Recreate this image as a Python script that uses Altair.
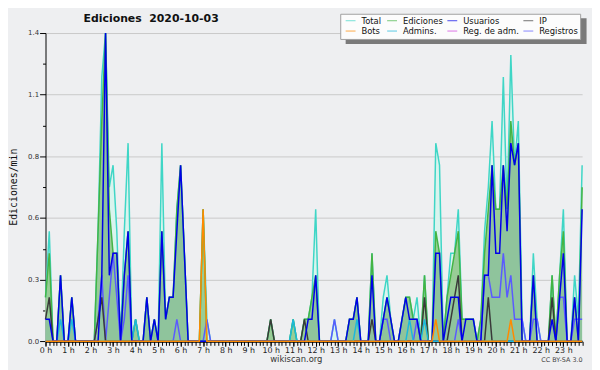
import altair as alt
import pandas as pd

# ---- labels / text ----
series_names = ["Total", "Ediciones", "Usuarios", "IP", "Bots", "Admins.", "Reg. de adm.", "Registros"]
series_colors = ["#3fd6c6", "#44b444", "#0000e8", "#3a3a3a", "#ff8a00", "#1cb8dc", "#d040e0", "#5a5aff"]
hour_labels = [f"{h} h" for h in range(24)]
y_ticks = [0, 0.28, 0.56, 0.84, 1.12, 1.4]
y_minor = [0.14, 0.42, 0.70, 0.98, 1.26]
title_text = ["Ediciones\u00a0\u00a02020-10-03"]
y_title = ["Ediciones/min"]
footer_site = ["wikiscan.org"]
footer_license = ["CC BY-SA 3.0"]

# ---- values: edits per minute, one value per 10-minute bin (6 per hour) ----
total = [
    0.2, 0.5, 0, 0, 0.3, 0,        # 0 h
    0, 0.2, 0, 0, 0, 0,            # 1 h
    0, 0, 0.5, 1.2, 1.4, 0.7,      # 2 h
    0.8, 0.5, 0, 0.5, 0.9, 0,      # 3 h
    0.1, 0, 0, 0.2, 0, 0.1,        # 4 h
    0, 0.9, 0.1, 0.2, 0.2, 0.6,    # 5 h
    0.8, 0.4, 0, 0, 0, 0,          # 6 h
    0.6, 0.1, 0, 0, 0, 0,          # 7 h
    0, 0, 0, 0, 0, 0,              # 8 h
    0, 0, 0, 0, 0, 0,              # 9 h
    0.1, 0, 0, 0, 0, 0,            # 10 h
    0.1, 0, 0, 0.1, 0.1, 0.2,      # 11 h
    0.6, 0, 0, 0, 0, 0.1,          # 12 h
    0, 0, 0, 0.1, 0.1, 0.2,        # 13 h
    0, 0, 0, 0.4, 0, 0,            # 14 h
    0.2, 0.3, 0.1, 0, 0, 0.1,      # 15 h
    0.2, 0.2, 0.1, 0.2, 0, 0.3,    # 16 h
    0, 0, 0.9, 0.8, 0, 0.2,        # 17 h
    0.4, 0.4, 0.6, 0.1, 0.1, 0.1,  # 18 h
    0.1, 0, 0.1, 0.5, 0.7, 1.0,    # 19 h
    0.6, 0.6, 1.2, 0.6, 1.3, 0.8,  # 20 h
    1.0, 0.1, 0, 0, 0.4, 0.1,      # 21 h
    0, 0, 0, 0.3, 0, 0.3,          # 22 h
    0.6, 0, 0, 0.3, 0.1, 0.8,      # 23 h
]
ediciones = [
    0.2, 0.4, 0, 0, 0.3, 0,
    0, 0.2, 0, 0, 0, 0,
    0, 0, 0.5, 1.0, 1.4, 0.6,
    0.4, 0.4, 0, 0.3, 0.5, 0,
    0.1, 0, 0, 0.2, 0, 0.1,
    0, 0.5, 0.1, 0.2, 0.2, 0.6,
    0.8, 0.4, 0, 0, 0, 0,
    0.6, 0, 0, 0, 0, 0,
    0, 0, 0, 0, 0, 0,
    0, 0, 0, 0, 0, 0,
    0.1, 0, 0, 0, 0, 0,
    0.1, 0, 0, 0.1, 0.1, 0.2,
    0.3, 0, 0, 0, 0, 0,
    0, 0, 0, 0.1, 0.1, 0.2,
    0, 0, 0, 0.4, 0, 0,
    0.1, 0.2, 0.1, 0, 0, 0.1,
    0.2, 0.2, 0.1, 0.1, 0, 0.3,
    0, 0, 0.5, 0.4, 0, 0.2,
    0.3, 0.4, 0.5, 0.1, 0.1, 0.1,
    0.1, 0, 0.1, 0.4, 0.6, 0.8,
    0.6, 0.6, 0.8, 0.6, 1.0, 0.8,
    0.9, 0, 0, 0, 0.3, 0,
    0, 0, 0, 0.3, 0, 0.3,
    0.5, 0, 0, 0.2, 0, 0.7,
]
usuarios = [
    0.1, 0.1, 0, 0, 0.3, 0,
    0, 0.2, 0, 0, 0, 0,
    0, 0, 0, 0.3, 1.4, 0.3,
    0.4, 0.4, 0, 0.3, 0.5, 0,
    0, 0, 0, 0.2, 0, 0.1,
    0, 0.5, 0.1, 0.2, 0.2, 0.5,
    0.8, 0.4, 0, 0, 0, 0,
    0, 0, 0, 0, 0, 0,
    0, 0, 0, 0, 0, 0,
    0, 0, 0, 0, 0, 0,
    0, 0, 0, 0, 0, 0,
    0, 0, 0, 0, 0.1, 0.1,
    0.3, 0, 0, 0, 0, 0,
    0, 0, 0, 0.1, 0.1, 0.2,
    0, 0, 0, 0.3, 0, 0,
    0.1, 0.2, 0.1, 0, 0, 0.1,
    0.2, 0.1, 0.1, 0.1, 0, 0,
    0, 0, 0.4, 0.4, 0, 0.1,
    0.2, 0.2, 0.2, 0, 0.1, 0.1,
    0.1, 0, 0, 0.3, 0.3, 0.8,
    0.4, 0.4, 0.8, 0.5, 0.9, 0.8,
    0.9, 0, 0, 0, 0.3, 0,
    0, 0, 0, 0.1, 0, 0.2,
    0.4, 0, 0, 0.2, 0, 0.6,
]
ip = [
    0.1, 0.2, 0, 0, 0, 0,
    0, 0, 0, 0, 0, 0,
    0, 0, 0.1, 0.2, 0, 0,
    0, 0, 0, 0, 0, 0,
    0, 0, 0, 0, 0, 0,
    0, 0, 0, 0, 0, 0,
    0, 0, 0, 0, 0, 0,
    0, 0, 0, 0, 0, 0,
    0, 0, 0, 0, 0, 0,
    0, 0, 0, 0, 0, 0,
    0.1, 0, 0, 0, 0, 0,
    0, 0, 0, 0.1, 0, 0,
    0, 0, 0, 0, 0, 0,
    0, 0, 0, 0, 0, 0,
    0, 0, 0, 0.1, 0, 0,
    0, 0, 0, 0, 0, 0,
    0, 0, 0, 0, 0, 0.2,
    0, 0, 0, 0, 0, 0,
    0.1, 0.2, 0.3, 0, 0, 0,
    0, 0, 0, 0, 0.2, 0,
    0, 0, 0, 0, 0, 0,
    0, 0, 0, 0, 0, 0,
    0, 0, 0, 0.2, 0, 0,
    0, 0, 0, 0, 0, 0,
]
bots = [0.0] * 144
bots[42] = 0.6
bots[104] = 0.1
bots[124] = 0.1
admins = [
    0, 0, 0, 0, 0.1, 0,
    0, 0.1, 0, 0, 0, 0,
    0, 0, 0, 0, 0, 0,
    0, 0, 0, 0, 0, 0,
    0.1, 0, 0, 0, 0, 0,
    0, 0, 0, 0, 0, 0,
    0, 0, 0, 0, 0, 0,
    0, 0, 0, 0, 0, 0,
    0, 0, 0, 0, 0, 0,
    0, 0, 0, 0, 0, 0,
    0, 0, 0, 0, 0, 0,
    0.1, 0, 0, 0, 0, 0,
    0, 0, 0, 0, 0, 0,
    0, 0, 0, 0, 0, 0.1,
    0, 0, 0, 0, 0, 0,
    0, 0, 0, 0, 0, 0,
    0, 0.1, 0, 0, 0, 0.1,
    0, 0, 0, 0, 0, 0,
    0, 0, 0, 0, 0, 0,
    0, 0, 0, 0, 0, 0,
    0, 0, 0, 0, 0, 0,
    0, 0, 0, 0, 0, 0,
    0, 0, 0, 0, 0, 0,
    0, 0, 0, 0, 0, 0,
]
registros = [
    0, 0, 0, 0, 0, 0,
    0, 0, 0, 0, 0, 0,
    0, 0, 0.1, 0.3, 0, 0.2,
    0.4, 0.2, 0, 0.1, 0.3, 0,
    0, 0, 0, 0, 0, 0,
    0, 0, 0, 0, 0, 0.1,
    0, 0, 0, 0, 0, 0,
    0, 0.1, 0, 0, 0, 0,
    0, 0, 0, 0, 0, 0,
    0, 0, 0, 0, 0, 0,
    0, 0, 0, 0, 0, 0,
    0, 0, 0, 0, 0, 0,
    0, 0, 0, 0, 0, 0.1,
    0, 0, 0, 0, 0, 0,
    0, 0, 0, 0, 0, 0,
    0.1, 0.1, 0, 0, 0, 0,
    0, 0, 0, 0.1, 0, 0,
    0, 0, 0, 0, 0, 0,
    0, 0, 0.1, 0, 0, 0,
    0, 0, 0, 0.3, 0.3, 0.2,
    0.2, 0.2, 0.4, 0.2, 0.3, 0.1,
    0.1, 0.1, 0, 0, 0.1, 0.1,
    0, 0, 0, 0, 0, 0.2,
    0.2, 0, 0, 0.1, 0.1, 0.1,
]

df = pd.DataFrame({
    "bin": list(range(144)),
    "total": total, "ediciones": ediciones, "usuarios": usuarios, "ip": ip,
    "bots": bots, "admins": admins, "registros": registros,
})

FONT = "DejaVu Sans"
W, H = 543.5, 312.3
xscale = alt.Scale(domain=[0, 143], nice=False, zero=False)
yscale = alt.Scale(domain=[0, 1.4], nice=False, zero=True)
label_expr = "[" + ",".join(f"'{l}'" for l in hour_labels) + "][round(datum.value / 6)]"

x_main = alt.X("bin:Q", scale=xscale, axis=alt.Axis(
    orient="bottom", values=[6 * h for h in range(24)], labelExpr=label_expr, title=None,
    grid=False, tickSize=5, tickColor="#000", tickWidth=1, domainColor="#000", domainWidth=2,
    labelFont=FONT, labelFontSize=8, labelColor="#222", labelPadding=0,
    labelFlush=False, labelOverlap=False))
y_main = alt.Y("total:Q", scale=yscale, axis=alt.Axis(
    orient="left", values=y_ticks, format=".1f", title=None, grid=True, gridColor="#c9c9c9",
    gridWidth=1, tickSize=6, tickColor="#000", domainColor="#000", domainWidth=1,
    labelFont=FONT, labelFontSize=7, labelColor="#333", labelPadding=1))
x_minor = alt.X("bin:Q", scale=xscale, axis=alt.Axis(
    orient="bottom", values=list(range(144)), labels=False, domain=False, grid=False,
    tickSize=4, tickColor="#000", title=None))
y_minor_ax = alt.Y("ediciones:Q", scale=yscale, axis=alt.Axis(
    orient="left", values=y_minor, labels=False, domain=False, grid=False,
    tickSize=3, tickColor="#000", title=None))

color_scale = alt.Scale(domain=series_names, range=series_colors)

base = alt.Chart(df)
nx = alt.X("bin:Q", scale=xscale, axis=None)


def ny(field):
    return alt.Y(f"{field}:Q", scale=yscale, axis=None)


def line(field, name):
    return base.transform_calculate(series=f"'{name}'").mark_line(strokeWidth=1.5).encode(
        x=nx, y=ny(field),
        color=alt.Color("series:N", scale=color_scale, legend=None))


total_area = base.mark_area(color="#d9f4ee", opacity=1).encode(x=x_main, y=y_main)
ed_area = base.mark_area(color="#98cd96", opacity=1).encode(x=x_minor, y=y_minor_ax)
usr_area = base.mark_area(color="#0040ff", opacity=0.06).encode(x=nx, y=ny("usuarios"))

lines = [
    line("total", "Total"),
    line("ediciones", "Ediciones"),
    line("registros", "Registros"),
    line("ip", "IP"),
    line("admins", "Admins."),
    line("usuarios", "Usuarios"),
    line("bots", "Bots"),
]

# ---- legend box (4 columns x 2 rows), layout in pixels relative to the plot ----
leg_col_x = [304, 346, 407, 484]     # symbol start of each column
leg_row_y = [-12.5, -2]              # centre of each row
leg_df = pd.DataFrame({
    "name": series_names,
    "sx": [leg_col_x[i % 4] for i in range(8)],
    "sy": [leg_row_y[i // 4] for i in range(8)],
})
leg_df["sx2"] = leg_df["sx"] + 10
leg_df["tx"] = leg_df["sx"] + 16

shadow = alt.Chart(pd.DataFrame({"k": [0]})).mark_rect(color="#7a7a7a").encode(
    x=alt.value(304), x2=alt.value(548), y=alt.value(-15), y2=alt.value(11))
box = alt.Chart(pd.DataFrame({"k": [0]})).mark_rect(
    fill="#fcfcfc", stroke="#a0a0a0", strokeWidth=1).encode(
    x=alt.value(299), x2=alt.value(542), y=alt.value(-19), y2=alt.value(6.5))
leg_sym = alt.Chart(leg_df).mark_rule(strokeWidth=1.2, opacity=0.6).encode(
    x=alt.X("sx:Q", scale=None, axis=None), x2="sx2:Q",
    y=alt.Y("sy:Q", scale=None, axis=None),
    color=alt.Color("name:N", scale=color_scale, legend=None))
leg_txt = alt.Chart(leg_df).mark_text(
    font=FONT, fontSize=8.5, color="#111", align="left", baseline="middle").encode(
    x=alt.X("tx:Q", scale=None, axis=None), y=alt.Y("sy:Q", scale=None, axis=None),
    text="name:N")

title = alt.Chart(pd.DataFrame({"t": title_text})).mark_text(
    font=FONT, fontSize=11, fontWeight="bold", color="#111", align="center", baseline="middle"
).encode(text="t:N", x=alt.value(107), y=alt.value(-14))
ytitle = alt.Chart(pd.DataFrame({"t": y_title})).mark_text(
    font="DejaVu Sans Mono", fontSize=10, color="#111", angle=270, align="center", baseline="middle"
).encode(text="t:N", x=alt.value(-32), y=alt.value(H / 2))
site = alt.Chart(pd.DataFrame({"t": footer_site})).mark_text(
    font=FONT, fontSize=8.5, color="#333", align="center", baseline="middle"
).encode(text="t:N", x=alt.value(254), y=alt.value(H + 18))
lic = alt.Chart(pd.DataFrame({"t": footer_license})).mark_text(
    font=FONT, fontSize=6.5, color="#444", align="right", baseline="middle"
).encode(text="t:N", x=alt.value(544), y=alt.value(H + 19))

chart = alt.layer(
    total_area, ed_area, usr_area, *lines, shadow, box, leg_sym, leg_txt,
    title, ytitle, site, lic
).resolve_axis(x="independent", y="independent").properties(
    width=W, height=H,
    autosize=alt.AutoSizeParams(type="none"),
    padding={"left": 38, "top": 23, "right": 10, "bottom": 30},
    background="#eeeff1",
).configure_view(stroke=None, fill="#eeeff1")

chart.save("out.html", embed_options={"renderer": "svg", "actions": False})
